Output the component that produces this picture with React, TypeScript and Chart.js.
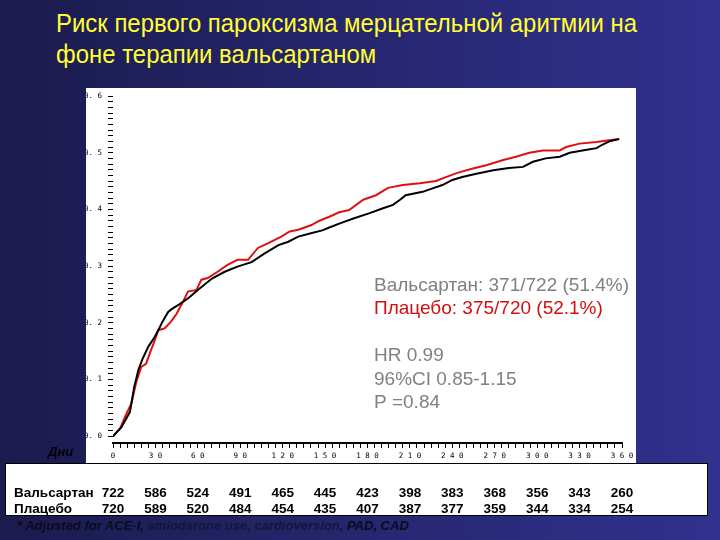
import React, { useEffect, useRef } from "react";
import { Chart, registerables } from "chart.js";

Chart.register(...registerables);

// ---- Data ----
const DAYS_VALSARTAN = [0, 6, 12, 15, 18, 21, 25, 29.5, 32, 35, 39, 42, 46, 53, 60, 70, 79, 88, 98, 107, 117, 124, 131, 140, 148, 153, 160, 170, 181, 191, 198, 203, 207, 219, 226, 233, 240, 247, 257, 269, 280, 290, 297, 306, 316, 323, 332, 342, 346, 351, 358];
const RISK_VALSARTAN = [0, 0.016, 0.043, 0.087, 0.117, 0.137, 0.158, 0.175, 0.187, 0.202, 0.219, 0.225, 0.231, 0.243, 0.258, 0.278, 0.29, 0.299, 0.307, 0.322, 0.337, 0.343, 0.352, 0.358, 0.363, 0.368, 0.375, 0.384, 0.393, 0.402, 0.408, 0.417, 0.425, 0.431, 0.437, 0.443, 0.452, 0.457, 0.463, 0.469, 0.473, 0.475, 0.484, 0.49, 0.493, 0.5, 0.504, 0.508, 0.514, 0.52, 0.524];

const DAYS_PLACEBO = [0, 5, 9, 13, 16.5, 20, 23.5, 26, 29.5, 32, 36.5, 41, 45, 49.5, 53, 59, 62.5, 67, 74, 81, 88, 95.5, 102.5, 109.5, 119, 125, 131, 140, 146, 153, 160, 167, 177, 186, 194.5, 205, 217, 228.5, 234.5, 243, 254.5, 264, 276, 285, 294.5, 304, 316, 320.5, 330, 342, 351, 358];
const RISK_PLACEBO = [0, 0.0135, 0.037, 0.058, 0.096, 0.122, 0.128, 0.146, 0.169, 0.187, 0.19, 0.202, 0.216, 0.237, 0.255, 0.258, 0.276, 0.279, 0.29, 0.302, 0.311, 0.311, 0.332, 0.34, 0.352, 0.361, 0.364, 0.372, 0.38, 0.387, 0.395, 0.399, 0.417, 0.425, 0.438, 0.443, 0.446, 0.45, 0.456, 0.464, 0.472, 0.478, 0.487, 0.493, 0.5, 0.504, 0.504, 0.51, 0.516, 0.519, 0.522, 0.524];

const X_TICK_LABELS = ["0", "3 0", "6 0", "9 0", "1 2 0", "1 5 0", "1 8 0", "2 1 0", "2 4 0", "2 7 0", "3 0 0", "3 3 0", "3 6 0"];
const Y_TICK_LABELS = ["0. 0", "0. 1", "0. 2", "0. 3", "0. 4", "0. 5", "0. 6"];

const TABLE_DAYS = [0, 30, 60, 90, 120, 150, 180, 210, 240, 270, 300, 330, 360];
const AT_RISK_VALSARTAN = [722, 586, 524, 491, 465, 445, 423, 398, 383, 368, 356, 343, 260];
const AT_RISK_PLACEBO = [720, 589, 520, 484, 454, 435, 407, 387, 377, 359, 344, 334, 254];

const TITLE_LINES = ["Риск первого пароксизма мерцательной аритмии на", "фоне терапии вальсартаном"];
const ANNOTATION = [
  { text: "Вальсартан: 371/722 (51.4%)", color: "#808080" },
  { text: "Плацебо: 375/720 (52.1%)", color: "#d01010" },
  { text: "", color: "#808080" },
  { text: "HR 0.99", color: "#808080" },
  { text: "96%CI 0.85-1.15", color: "#808080" },
  { text: "P =0.84", color: "#808080" },
];
const ROW_LABELS = ["Вальсартан", "Плацебо"];
const AXIS_TITLE = "Дни";

const overlayPlugin = {
  id: "overlay",
  afterDraw(chart: any) {
    const ctx = chart.ctx as CanvasRenderingContext2D;
    const xs = chart.scales.x;
    ctx.save();
    // annotation
    ctx.textAlign = "left";
    ctx.textBaseline = "alphabetic";
    ctx.font = '19px "Liberation Sans", Arial, sans-serif';
    ANNOTATION.forEach((l, i) => {
      ctx.fillStyle = l.color;
      ctx.fillText(l.text, 374, 291 + i * 23.4);
    });
    // axis title
    ctx.font = 'italic bold 13px "Liberation Sans", Arial, sans-serif';
    ctx.fillStyle = "#000";
    ctx.fillText(AXIS_TITLE, 48, 456);
    // table
    ctx.font = 'bold 13.5px "Liberation Sans", Arial, sans-serif';
    ctx.fillStyle = "#000";
    ctx.fillText(ROW_LABELS[0], 14, 497);
    ctx.fillText(ROW_LABELS[1], 14, 513);
    ctx.textAlign = "center";
    TABLE_DAYS.forEach((d, i) => {
      const px = xs.getPixelForValue(d);
      ctx.fillText(String(AT_RISK_VALSARTAN[i]), px, 497);
      ctx.fillText(String(AT_RISK_PLACEBO[i]), px, 513);
    });
    ctx.restore();
  },
};

export default function App() {
  const ref = useRef<HTMLCanvasElement | null>(null);
  useEffect(() => {
    if (!ref.current) return;
    const tickFont = { family: '"DejaVu Sans Mono", monospace', size: 7.5 };
    const chart = new Chart(ref.current, {
      type: "line",
      data: {
        datasets: [
          {
            label: "Вальсартан",
            data: DAYS_VALSARTAN.map((d, i) => ({ x: d, y: RISK_VALSARTAN[i] })),
            borderColor: "#000000",
            borderWidth: 2,
            pointRadius: 0,
            tension: 0,
            fill: false,
          },
          {
            label: "Плацебо",
            data: DAYS_PLACEBO.map((d, i) => ({ x: d, y: RISK_PLACEBO[i] })),
            borderColor: "#dd1111",
            borderWidth: 2,
            pointRadius: 0,
            tension: 0,
            fill: false,
          },
        ],
      },
      options: {
        responsive: false,
        animation: false,
        devicePixelRatio: 1,
        layout: { padding: { left: 86, right: 98, top: 96, bottom: 77 } },
        plugins: { legend: { display: false }, tooltip: { enabled: false } },
        scales: {
          x: {
            type: "linear",
            min: 0,
            max: 360,
            afterBuildTicks: (s: any) => {
              const t = [];
              for (let v = 0; v <= 360; v += 5) t.push({ value: v });
              s.ticks = t;
            },
            afterFit: (s: any) => {
              s.height = 20;
            },
            border: { display: true, color: "#000", width: 2 },
            grid: {
              drawOnChartArea: false,
              drawTicks: true,
              tickLength: 5,
              color: "#000",
              lineWidth: 1,
            },
            ticks: {
              autoSkip: false,
              maxRotation: 0,
              padding: 4,
              color: "#000",
              font: tickFont,
              callback: (v: any) => (v % 30 === 0 ? X_TICK_LABELS[v / 30] : ""),
            },
          },
          y: {
            type: "linear",
            min: -0.012,
            max: 0.6,
            afterBuildTicks: (s: any) => {
              const t = [];
              for (let i = 0; i <= 60; i++) t.push({ value: i / 100 });
              s.ticks = t;
            },
            afterFit: (s: any) => {
              s.width = 27;
            },
            border: { display: false },
            grid: {
              drawOnChartArea: false,
              drawTicks: true,
              tickLength: 5,
              color: "#000",
              lineWidth: 1,
            },
            ticks: {
              autoSkip: false,
              padding: 6,
              color: "#000",
              font: tickFont,
              callback: (v: any) => {
                const k = Math.round(v * 100);
                return k % 10 === 0 ? Y_TICK_LABELS[k / 10] : "";
              },
            },
          },
        },
      },
      plugins: [overlayPlugin],
    } as any);
    return () => chart.destroy();
  }, []);

  return (
    <div
      style={{
        position: "absolute",
        left: 0,
        top: 0,
        width: 720,
        height: 540,
        overflow: "hidden",
        background: "linear-gradient(to right, #1b1b4e 0%, #25256c 45%, #31318f 100%)",
        fontFamily: '"Liberation Sans", Arial, sans-serif',
      }}
    >
      <div
        style={{
          position: "absolute",
          left: 56,
          top: 8,
          color: "#ffff33",
          fontFamily: '"Liberation Sans Narrow", "Arial Narrow", "Liberation Sans", sans-serif',
          fontSize: 26,
          lineHeight: "31px",
          whiteSpace: "nowrap",
          transform: "scaleX(0.92)",
          transformOrigin: "left top",
        }}
      >
        {TITLE_LINES.map((l, i) => (
          <div key={i}>{l}</div>
        ))}
      </div>
      <div style={{ position: "absolute", left: 86, top: 88, width: 550, height: 375, background: "#fff" }} />
      <div
        style={{
          position: "absolute",
          left: 5,
          top: 463,
          width: 701,
          height: 51,
          background: "#fff",
          border: "1.5px solid #000",
        }}
      />
      <div
        style={{
          position: "absolute",
          left: 17,
          top: 518,
          fontSize: 13,
          lineHeight: "15px",
          fontStyle: "italic",
          fontWeight: "bold",
          color: "#0a0a20",
          whiteSpace: "nowrap",
        }}
      >
        * Adjusted for ACE-I, <span style={{ color: "#15153a" }}>amiodarone use, cardioversion,</span> PAD, CAD
      </div>
      <canvas
        ref={ref}
        width={720}
        height={540}
        style={{ position: "absolute", left: 0, top: 0, width: 720, height: 540 }}
      />
    </div>
  );
}
